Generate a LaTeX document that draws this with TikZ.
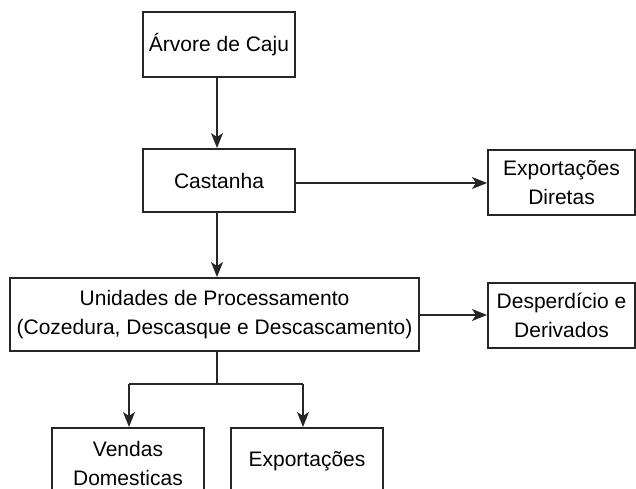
\documentclass[tikz,border=0pt]{standalone}
\usepackage{fontspec}
\setmainfont{Liberation Sans}
\usetikzlibrary{arrows.meta}
\begin{document}
\begin{tikzpicture}[x=1pt,y=-1pt,
  txt/.style={font=\fontsize{21}{29}\selectfont,align=center},
  box/.style={txt,draw=black!85,line width=2pt,inner sep=0pt},
  arr/.style={line width=1.6pt,draw=black!85,-{Stealth[length=15pt,width=12pt,inset=4pt]}},
  ln/.style={line width=1.6pt,draw=black!85}]
\useasboundingbox (0,0) rectangle (636,489);
\clip (0,0) rectangle (636,489);
\node[box,minimum width=152pt,minimum height=65pt] (arv) at (219,44.5) {Árvore de Caju};
\node[box,minimum width=152pt,minimum height=63pt] (cas) at (219,180.5) {Castanha};
\node[box,minimum width=147pt,minimum height=65pt] (exd) at (561.5,182.5) {Exportações\\Diretas};
\node[box,minimum width=409pt,minimum height=73pt] (uni) at (214.5,314.5) {Unidades de Processamento\\(Cozedura, Descasque e Descascamento)};
\node[box,minimum width=147pt,minimum height=65pt] (des) at (561.5,315.5) {Desperdício e\\Derivados};
\node[box,minimum width=152pt,minimum height=110pt] (ven) at (128,483) {};
\node[box,minimum width=152pt,minimum height=110pt] (exp) at (307,483) {};
\node[txt] (vent) at (128,463) {Vendas\\Domesticas};
\node[txt] (expt) at (307,461) {Exportações};
\coordinate (j) at (217,384);
\coordinate (jl) at (129,384);
\coordinate (jr) at (303,384);
\draw[arr] (arv.south -| 217,0) -- (cas.north -| 217,0);
\draw[arr] (cas.south -| 217,0) -- (uni.north -| 217,0);
\draw[arr] (cas.east |- 0,183) -- (exd.west |- 0,183);
\draw[arr] (uni.east |- 0,315) -- (des.west |- 0,315);
\draw[ln] (uni.south -| 217,0) -- (j);
\draw[ln] (jl) -- (jr);
\draw[arr] (jl) -- (ven.north -| jl);
\draw[arr] (jr) -- (exp.north -| jr);
\end{tikzpicture}
\end{document}
